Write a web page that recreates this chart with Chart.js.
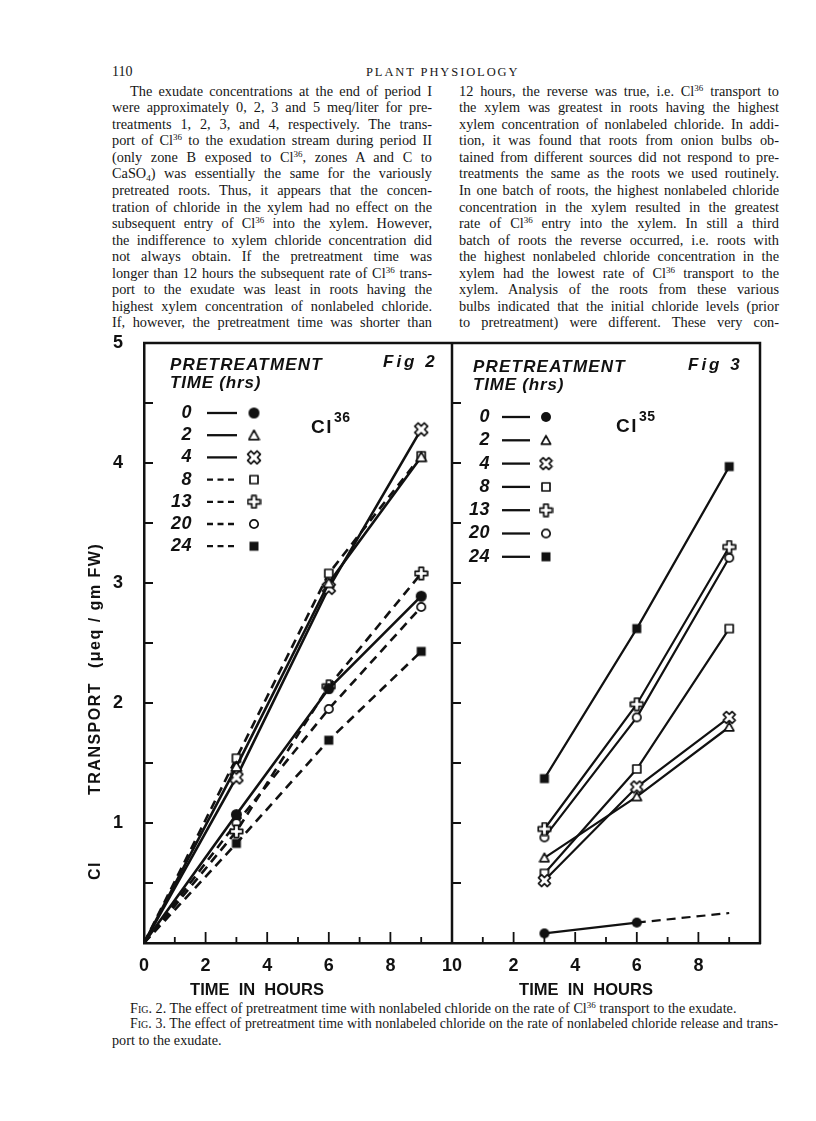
<!DOCTYPE html>
<html>
<head>
<meta charset="utf-8">
<script src="https://cdn.jsdelivr.net/npm/chart.js@4.4.1/dist/chart.umd.min.js"></script>
<style>
  html,body{margin:0;padding:0;background:#fff;}
  body{width:816px;height:1121px;position:relative;overflow:hidden;font-family:'Liberation Serif','Times New Roman',serif;color:#161616;}
  .hdr{position:absolute;top:63px;font-size:14px;line-height:18px;}
  .col{position:absolute;top:82.7px;width:320px;font-size:14.3px;line-height:16.55px;}
  .col div{text-align:justify;text-align-last:justify;white-space:normal;}
  sup{font-size:9px;vertical-align:0;position:relative;top:-5px;line-height:0;}
  sub{font-size:9px;vertical-align:0;position:relative;top:3px;line-height:0;}
  .cap{position:absolute;font-size:14.2px;line-height:16px;}
  .sc{font-variant:small-caps;}
  #wrap{position:absolute;left:0;top:330px;width:816px;height:670px;}
</style>
</head>
<body>
<div class="hdr" style="left:112px;">110</div>
<div class="hdr" style="left:366px;font-size:12.5px;letter-spacing:1.9px;">PLANT PHYSIOLOGY</div>

<div class="col" style="left:112px;">
  <div style="padding-left:18px;">The exudate concentrations at the end of period I</div>
  <div>were approximately 0, 2, 3 and 5 meq/liter for pre-</div>
  <div>treatments 1, 2, 3, and 4, respectively. The trans-</div>
  <div>port of Cl<sup>36</sup> to the exudation stream during period II</div>
  <div>(only zone B exposed to Cl<sup>36</sup>, zones A and C to</div>
  <div>CaSO<sub>4</sub>) was essentially the same for the variously</div>
  <div>pretreated roots. Thus, it appears that the concen-</div>
  <div>tration of chloride in the xylem had no effect on the</div>
  <div>subsequent entry of Cl<sup>36</sup> into the xylem. However,</div>
  <div>the indifference to xylem chloride concentration did</div>
  <div>not always obtain. If the pretreatment time was</div>
  <div>longer than 12 hours the subsequent rate of Cl<sup>36</sup> trans-</div>
  <div>port to the exudate was least in roots having the</div>
  <div>highest xylem concentration of nonlabeled chloride.</div>
  <div>If, however, the pretreatment time was shorter than</div>
</div>

<div class="col" style="left:459px;">
  <div>12 hours, the reverse was true, i.e. Cl<sup>36</sup> transport to</div>
  <div>the xylem was greatest in roots having the highest</div>
  <div>xylem concentration of nonlabeled chloride. In addi-</div>
  <div>tion, it was found that roots from onion bulbs ob-</div>
  <div>tained from different sources did not respond to pre-</div>
  <div>treatments the same as the roots we used routinely.</div>
  <div>In one batch of roots, the highest nonlabeled chloride</div>
  <div>concentration in the xylem resulted in the greatest</div>
  <div>rate of Cl<sup>36</sup> entry into the xylem. In still a third</div>
  <div>batch of roots the reverse occurred, i.e. roots with</div>
  <div>the highest nonlabeled chloride concentration in the</div>
  <div>xylem had the lowest rate of Cl<sup>36</sup> transport to the</div>
  <div>xylem. Analysis of the roots from these various</div>
  <div>bulbs indicated that the initial chloride levels (prior</div>
  <div>to pretreatment) were different. These very con-</div>
</div>

<div id="wrap"><canvas id="c"></canvas></div>

<div class="cap" style="left:130px;top:1000px;"><span class="sc">Fig.</span> 2. The effect of pretreatment time with nonlabeled chloride on the rate of Cl<sup>36</sup> transport to the exudate.</div>
<div class="cap" style="left:130px;top:1016px;width:648px;font-size:13.85px;text-align:justify;text-align-last:justify;"><span class="sc">Fig.</span> 3. The effect of pretreatment time with nonlabeled chloride on the rate of nonlabeled chloride release and trans-</div>
<div class="cap" style="left:112px;top:1032px;">port to the exudate.</div>

<script>
// ---------------- data ----------------
const pretreatTimes = ['0', '2', '4', '8', '13', '20', '24'];   // hours of pretreatment (legend)
const fig2Hours = [0, 3, 6, 9];                                 // Fig 2 sampling times (h)
const fig3Hours = [3, 6, 9];                                    // Fig 3 sampling times (h)
const fig3Offset = 10;                                          // Fig 3 time axis begins where Fig 2 ends

// Fig 2 – Cl36 transport (µeq/gm FW)
const fig2_0  = [0, 1.07, 2.12, 2.89];
const fig2_2  = [0, 1.47, 3.00, 4.05];
const fig2_4  = [0, 1.38, 2.96, 4.28];
const fig2_8  = [0, 1.54, 3.08, 4.06];
const fig2_13 = [0, 0.93, 2.14, 3.08];
const fig2_20 = [0, 1.00, 1.95, 2.80];
const fig2_24 = [0, 0.83, 1.69, 2.43];

// Fig 3 – Cl35 transport (µeq/gm FW)
const fig3_0  = [0.08, 0.17, 0.25];
const fig3_2  = [0.71, 1.22, 1.80];
const fig3_4  = [0.52, 1.30, 1.88];
const fig3_8  = [0.58, 1.45, 2.62];
const fig3_13 = [0.95, 1.99, 3.30];
const fig3_20 = [0.88, 1.88, 3.21];
const fig3_24 = [1.37, 2.62, 3.97];

const xTickLabels = ['0', '2', '4', '6', '8', '10', '2', '4', '6', '8', ''];
const yTickLabels = ['', '1', '2', '3', '4', '5'];

// ---------------- styling ----------------
const INK = '#111';
const canvasTop = 330;
const markerKinds = ['dot', 'tri', 'x', 'box', 'plus', 'ring', 'sq'];
const fig2Dashed = [false, false, false, true, true, true, true];
const fig2Sizes = {dot: 13, tri: 13, x: 16, box: 12, plus: 15, ring: 12, sq: 12};
const fig3Sizes = {dot: 12, tri: 12, x: 15, box: 12, plus: 15, ring: 12, sq: 12};
const DASH = [9, 6];

function makeMarker(kind, d) {
  const c = document.createElement('canvas');
  c.width = d; c.height = d;
  const g = c.getContext('2d');
  g.translate(d / 2, d / 2);
  g.strokeStyle = INK; g.fillStyle = INK; g.lineWidth = 1.7; g.lineJoin = 'round';
  const r = d / 2 - 1;
  g.beginPath();
  if (kind === 'dot') {
    g.arc(0, 0, r, 0, Math.PI * 2); g.fill();
  } else if (kind === 'ring') {
    g.arc(0, 0, r - 0.8, 0, Math.PI * 2); g.fillStyle = '#fff'; g.fill(); g.stroke();
  } else if (kind === 'sq') {
    g.rect(-r + 0.5, -r + 0.5, 2 * r - 1, 2 * r - 1); g.fill();
  } else if (kind === 'box') {
    g.rect(-r + 1, -r + 1, 2 * r - 2, 2 * r - 2); g.fillStyle = '#fff'; g.fill(); g.stroke();
  } else if (kind === 'tri') {
    g.moveTo(0, -r + 0.5); g.lineTo(r - 0.3, r - 1.2); g.lineTo(-r + 0.3, r - 1.2); g.closePath();
    g.fillStyle = '#fff'; g.fill(); g.stroke();
  } else {
    if (kind === 'x') g.rotate(Math.PI / 4);
    const a = r * 0.34, L = r - 0.3;
    const pts = [[-a,-L],[a,-L],[a,-a],[L,-a],[L,a],[a,a],[a,L],[-a,L],[-a,a],[-L,a],[-L,-a],[-a,-a]];
    pts.forEach((p, i) => i ? g.lineTo(p[0], p[1]) : g.moveTo(p[0], p[1]));
    g.closePath(); g.fillStyle = '#fff'; g.fill(); g.stroke();
  }
  return c;
}
const fig2Markers = markerKinds.map(k => makeMarker(k, fig2Sizes[k]));
const fig3Markers = markerKinds.map(k => makeMarker(k, fig3Sizes[k]));

const fig2Series = [fig2_0, fig2_2, fig2_4, fig2_8, fig2_13, fig2_20, fig2_24];
const fig3Series = [fig3_0, fig3_2, fig3_4, fig3_8, fig3_13, fig3_20, fig3_24];

const datasets = [];
fig2Series.forEach((vals, i) => {
  datasets.push({
    label: 'Fig 2 – ' + pretreatTimes[i] + ' h',
    data: fig2Hours.map((h, j) => ({x: h, y: vals[j]})),
    borderColor: INK, backgroundColor: INK, borderWidth: 2.6,
    borderDash: fig2Dashed[i] ? DASH : [],
    pointStyle: fig2Markers[i],
    pointRadius: fig2Hours.map(h => h === 0 ? 0 : 6),
    tension: 0, fill: false
  });
});
fig3Series.forEach((vals, i) => {
  const last = fig3Hours.length - 1;
  datasets.push({
    label: 'Fig 3 – ' + pretreatTimes[i] + ' h',
    data: fig3Hours.map((h, j) => ({x: fig3Offset + h, y: vals[j]})),
    borderColor: INK, backgroundColor: INK, borderWidth: 2.2,
    pointStyle: fig3Markers[i],
    // the 0-h series ends in an extrapolated dashed segment without a symbol
    pointRadius: fig3Hours.map((h, j) => (i === 0 && j === last) ? 0 : 6),
    segment: i === 0 ? {borderDash: ctx => ctx.p1DataIndex === last ? DASH : undefined} : undefined,
    tension: 0, fill: false
  });
});

// ---------------- decorations (frame, inward ticks, legends, titles) ----------------
const LETTER = '"Liberation Sans", Arial, sans-serif';
function txt(ctx, s, x, y, font, align, spacing) {
  ctx.font = font;
  ctx.textAlign = align || 'left';
  ctx.textBaseline = 'middle';
  if ('letterSpacing' in ctx) ctx.letterSpacing = (spacing || 0) + 'px';
  ctx.fillText(s, x, y - canvasTop);
  if ('letterSpacing' in ctx) ctx.letterSpacing = '0px';
}
function legend(ctx, cfg) {
  const {hdrX, hdrY, figX, figY, figText, y0, step, numR, l0, l1, mx, dashed, markers} = cfg;
  txt(ctx, 'PRETREATMENT', hdrX, hdrY, 'italic bold 17px ' + LETTER, 'left', 1.2);
  txt(ctx, 'TIME (hrs)', hdrX, hdrY + 18, 'italic bold 17px ' + LETTER, 'left', 0.8);
  txt(ctx, figText, figX, figY, 'italic bold 17px ' + LETTER, 'left', 3);
  pretreatTimes.forEach((t, i) => {
    const y = y0 + step * i;
    txt(ctx, t, numR, y, 'italic bold 18px ' + LETTER, 'right', 0.5);
    ctx.save();
    ctx.lineWidth = 2.3;
    ctx.setLineDash(dashed[i] ? [6, 4.5] : []);
    ctx.beginPath(); ctx.moveTo(l0, y - canvasTop); ctx.lineTo(l1, y - canvasTop); ctx.stroke();
    ctx.restore();
    const m = markers[i];
    ctx.drawImage(m, mx - m.width / 2, y - canvasTop - m.height / 2);
  });
}
function isotope(ctx, x, y, sup) {
  txt(ctx, 'Cl', x, y, 'bold 19px ' + LETTER, 'left', 1.5);
  ctx.font = 'bold 19px ' + LETTER;
  const w = ctx.measureText('Cl').width + 4;
  txt(ctx, sup, x + w, y - 10, 'bold 14px ' + LETTER, 'left', 0.5);
}

const decor = {
  id: 'decor',
  afterDraw(chart) {
    const {ctx, chartArea: a, scales: {x, y}} = chart;
    ctx.save();
    ctx.strokeStyle = INK; ctx.fillStyle = INK;
    const xd = x.getPixelForValue(fig3Offset);
    ctx.lineWidth = 2.5;
    ctx.beginPath();
    ctx.moveTo(a.left - 1, a.top); ctx.lineTo(a.right, a.top); ctx.lineTo(a.right, a.bottom + 1);
    ctx.moveTo(xd, a.top); ctx.lineTo(xd, a.bottom);
    ctx.stroke();
    ctx.lineWidth = 1.8;
    ctx.beginPath();
    for (let v = 0.5; v < 5; v += 0.5) {
      const py = y.getPixelForValue(v);
      ctx.moveTo(a.left, py); ctx.lineTo(a.left + 9, py);
      ctx.moveTo(xd, py); ctx.lineTo(xd + 9, py);
    }
    for (let h = 1; h < 20; h++) {
      if (h === fig3Offset) continue;
      const px = x.getPixelForValue(h);
      ctx.moveTo(px, a.bottom); ctx.lineTo(px, a.bottom - (h % 2 === 0 ? 11 : 6));
    }
    ctx.stroke();

    legend(ctx, {hdrX: 170, hdrY: 365, figX: 383, figY: 362, figText: 'Fig 2',
      y0: 413, step: 22.2, numR: 192, l0: 207, l1: 237, mx: 254, dashed: fig2Dashed, markers: fig2Markers});
    legend(ctx, {hdrX: 473, hdrY: 367, figX: 688, figY: 365, figText: 'Fig 3',
      y0: 417, step: 23.3, numR: 490, l0: 502, l1: 530, mx: 546, dashed: pretreatTimes.map(() => false), markers: fig3Markers});
    isotope(ctx, 311, 428, '36');
    isotope(ctx, 616, 427, '35');

    // x-axis titles
    txt(ctx, 'TIME  IN  HOURS', 257, 990, 'bold 16.5px ' + LETTER, 'center', 0);
    txt(ctx, 'TIME  IN  HOURS', 586, 990, 'bold 16.5px ' + LETTER, 'center', 0);

    // y-axis title (rotated)
    ctx.save();
    ctx.translate(96, 0);
    ctx.rotate(-Math.PI / 2);
    ctx.font = 'bold 16px ' + LETTER;
    ctx.textBaseline = 'middle';
    ctx.textAlign = 'left';
    if ('letterSpacing' in ctx) ctx.letterSpacing = '1.5px';
    ctx.fillText('Cl', -(880 - canvasTop), 0);
    ctx.fillText('TRANSPORT', -(795 - canvasTop), 0);
    ctx.fillText('(μeq / gm FW)', -(668 - canvasTop), 0);
    ctx.restore();
    ctx.restore();
  }
};

new Chart(document.getElementById('c'), {
  type: 'line',
  data: {datasets},
  options: {
    responsive: true, maintainAspectRatio: false, animation: false,
    layout: {autoPadding: false, padding: {top: 13, right: 56, left: 0, bottom: 0}},
    plugins: {legend: {display: false}, tooltip: {enabled: false}},
    scales: {
      x: {
        type: 'linear', min: 0, max: 20,
        afterFit: s => { s.height = 57; s.paddingLeft = 0; s.paddingRight = 0; },
        ticks: {stepSize: 2, autoSkip: false, maxRotation: 0, padding: 12, color: INK,
          font: {family: 'Liberation Sans', weight: 'bold', size: 18},
          callback: v => xTickLabels[Math.round(v / 2)] ?? ''},
        grid: {display: false, drawTicks: false},
        border: {display: true, color: INK, width: 2.5}
      },
      y: {
        min: 0, max: 5,
        afterFit: s => { s.width = 144; s.paddingTop = 0; s.paddingBottom = 0; },
        ticks: {stepSize: 1, padding: 21, color: INK,
          font: {family: 'Liberation Sans', weight: 'bold', size: 18},
          callback: v => yTickLabels[Math.round(v)] ?? ''},
        grid: {display: false, drawTicks: false},
        border: {display: true, color: INK, width: 2.5}
      }
    }
  },
  plugins: [decor]
});
</script>
</body>
</html>
